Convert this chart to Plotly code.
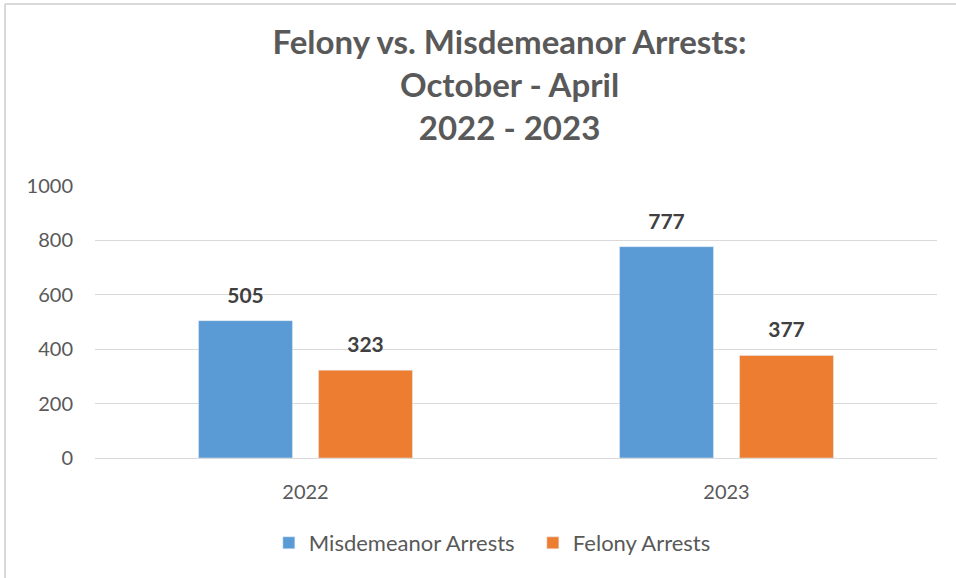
import plotly.graph_objects as go

years = ["2022", "2023"]
misdemeanor = [505, 777]
felony = [323, 377]
series_names = ["Misdemeanor Arrests", "Felony Arrests"]
y_ticks = [0, 200, 400, 600, 800, 1000]

FONT = "Lato"
GRAY = "#595959"
BLUE = "#5B9BD5"
ORANGE = "#ED7D31"

LABEL = ("<span style='font-size:21px'><b>%{y}</b></span>"
         "<br><span style='color:rgba(0,0,0,0)'>.</span>")

fig = go.Figure()
for name, vals, col in ((series_names[0], misdemeanor, BLUE), (series_names[1], felony, ORANGE)):
    fig.add_trace(go.Bar(x=years, y=vals, name=name, marker_color=col,
                         texttemplate=LABEL, textposition="outside",
                         textfont=dict(family=FONT, size=10, color="#404040"),
                         cliponaxis=False, hoverinfo="x+y+name"))

fig.update_layout(
    width=956, height=578,
    margin=dict(l=95, r=19, t=186, b=120, autoexpand=False),
    paper_bgcolor="white", plot_bgcolor="white",
    barmode="group", bargap=0.43, bargroupgap=0.217,
    uniformtext=dict(mode=False),
    title=dict(text="<b>Felony vs. Misdemeanor Arrests:<br>October - April<br>2022 - 2023</b>",
               x=0.533, xanchor="center", y=0.907, yanchor="top",
               font=dict(family=FONT, size=33, color=GRAY)),
    font=dict(family=FONT, color=GRAY),
    xaxis=dict(type="category", tickfont=dict(size=20, color=GRAY), showgrid=False,
               ticks="outside", ticklen=16, tickcolor="rgba(0,0,0,0)"),
    yaxis=dict(range=[0, 1000], tickvals=y_ticks, tickfont=dict(size=20, color=GRAY),
               showgrid=True, gridcolor="#D9D9D9", gridwidth=1,
               zeroline=True, zerolinecolor="#D9D9D9", zerolinewidth=1,
               ticks="outside", ticklen=17, tickcolor="rgba(0,0,0,0)"),
    legend=dict(orientation="h", x=0.52, xanchor="center", y=-0.3125, yanchor="middle",
                font=dict(size=22, color=GRAY), entrywidth=219, entrywidthmode="pixels"),
)

# chart frame (top and left edges)
fig.add_shape(type="line", xref="paper", yref="paper",
              x0=-90/842, x1=1.1, y0=1 + 182/272, y1=1 + 182/272,
              line=dict(color="#D9D9D9", width=2))
fig.add_shape(type="line", xref="paper", yref="paper",
              x0=-90/842, x1=-90/842, y0=-0.5, y1=1 + 182/272,
              line=dict(color="#D9D9D9", width=2))

fig.write_html("out.html", config={"displayModeBar": False},
               post_script="document.body.style.margin='0';")
